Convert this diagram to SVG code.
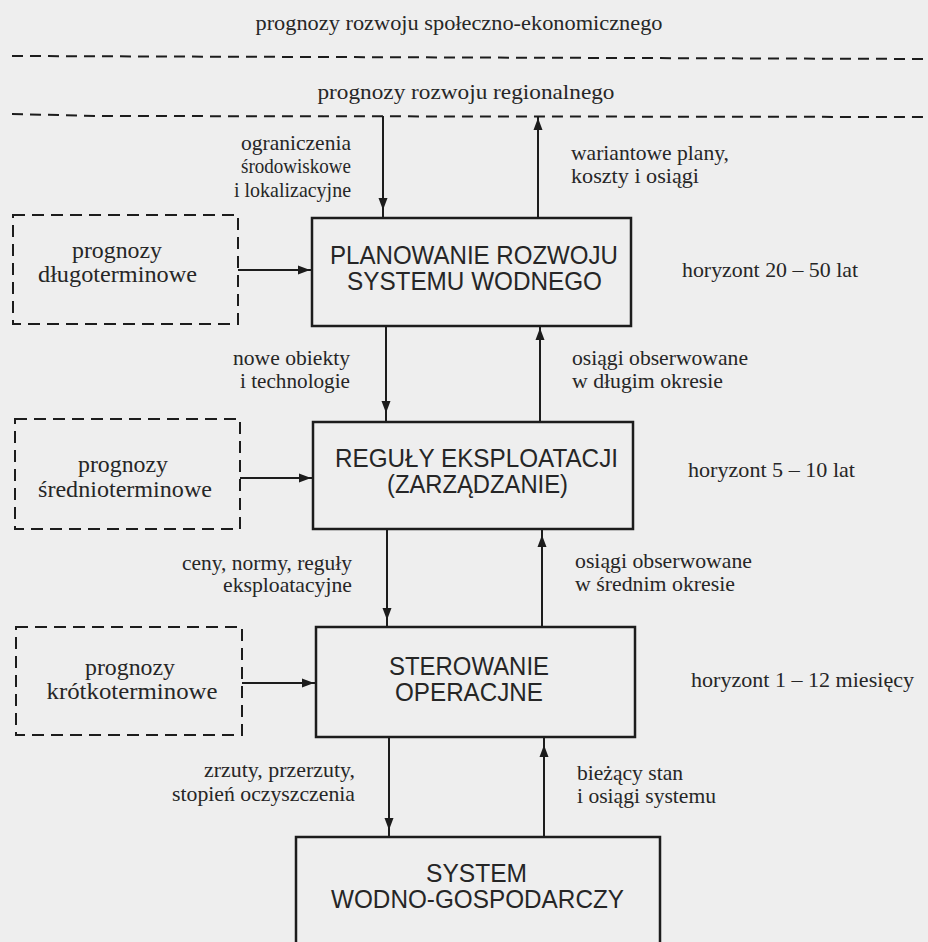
<svg xmlns="http://www.w3.org/2000/svg" width="928" height="942" viewBox="0 0 928 942">
<style>
.bg{fill:#eeeeee}
.box{fill:none;stroke:#1c1c1c;stroke-width:2.5}
.dbox{fill:none;stroke:#1c1c1c;stroke-width:2;stroke-dasharray:12 7}
.dline{fill:none;stroke:#1c1c1c;stroke-width:2;stroke-dasharray:11 7}
.conn{fill:none;stroke:#1c1c1c;stroke-width:2;marker-mid:url(#ah)}
.s{font-family:"Liberation Serif","Times New Roman",serif;font-size:21px;fill:#262626}
.d{font-family:"Liberation Serif","Times New Roman",serif;font-size:23px;fill:#262626;text-anchor:middle}
.b{font-family:"Liberation Sans",Arial,sans-serif;font-size:25px;fill:#262626;text-anchor:middle}
.m{text-anchor:middle}
.e{text-anchor:end}
</style>
<defs>
<marker id="ah" viewBox="0 0 12 10" refX="12" refY="5" markerWidth="12" markerHeight="10" markerUnits="userSpaceOnUse" orient="auto">
<path d="M0,0.5 L12,5 L0,9.5 Z" fill="#1c1c1c"/>
</marker>
</defs>
<rect class="bg" x="0" y="0" width="928" height="942"/>

<g id="levels">
<text class="s m" x="459" y="30" textLength="407" lengthAdjust="spacingAndGlyphs">prognozy rozwoju społeczno-ekonomicznego</text>
<path class="dline" d="M12,56 L928,59"/>
<text class="s m" x="466" y="99" textLength="297" lengthAdjust="spacingAndGlyphs">prognozy rozwoju regionalnego</text>
<path class="dline" d="M12,114 L100,116 L928,117"/>
</g>

<g id="planowanie">
<rect class="box" x="312" y="218" width="319" height="108"/>
<text class="b" x="474" y="264" textLength="288" lengthAdjust="spacingAndGlyphs">PLANOWANIE ROZWOJU</text>
<text class="b" x="474.5" y="290" textLength="255" lengthAdjust="spacingAndGlyphs">SYSTEMU WODNEGO</text>
</g>
<g id="reguly">
<rect class="box" x="313" y="422" width="320" height="107"/>
<text class="b" x="476.5" y="467" textLength="283" lengthAdjust="spacingAndGlyphs">REGUŁY EKSPLOATACJI</text>
<text class="b" x="477.5" y="493" textLength="181" lengthAdjust="spacingAndGlyphs">(ZARZĄDZANIE)</text>
</g>
<g id="sterowanie">
<rect class="box" x="316" y="627" width="319" height="110"/>
<text class="b" x="469" y="675" textLength="160" lengthAdjust="spacingAndGlyphs">STEROWANIE</text>
<text class="b" x="469" y="701" textLength="148" lengthAdjust="spacingAndGlyphs">OPERACJNE</text>
</g>
<g id="system">
<path class="box" d="M296,950 V837 H660 V950"/>
<text class="b" x="476.5" y="882" textLength="101" lengthAdjust="spacingAndGlyphs">SYSTEM</text>
<text class="b" x="477.5" y="908" textLength="293" lengthAdjust="spacingAndGlyphs">WODNO-GOSPODARCZY</text>
</g>

<g id="prognozy-dlugo">
<rect class="dbox" x="13" y="215" width="225" height="109"/>
<text class="d" x="117" y="258" textLength="90" lengthAdjust="spacingAndGlyphs">prognozy</text>
<text class="d" x="117.5" y="282" textLength="159" lengthAdjust="spacingAndGlyphs">długoterminowe</text>
</g>
<g id="prognozy-srednio">
<rect class="dbox" x="15" y="419" width="225" height="110"/>
<text class="d" x="123" y="472" textLength="90" lengthAdjust="spacingAndGlyphs">prognozy</text>
<text class="d" x="125" y="497" textLength="174" lengthAdjust="spacingAndGlyphs">średnioterminowe</text>
</g>
<g id="prognozy-krotko">
<rect class="dbox" x="16" y="627" width="226" height="108"/>
<text class="d" x="130" y="675" textLength="90" lengthAdjust="spacingAndGlyphs">prognozy</text>
<text class="d" x="132" y="699" textLength="171" lengthAdjust="spacingAndGlyphs">krótkoterminowe</text>
</g>

<g id="horizons">
<text class="s" x="682" y="277" textLength="176" lengthAdjust="spacingAndGlyphs">horyzont 20 – 50 lat</text>
<text class="s" x="688" y="477" textLength="167" lengthAdjust="spacingAndGlyphs">horyzont 5 – 10 lat</text>
<text class="s" x="691" y="687" textLength="223" lengthAdjust="spacingAndGlyphs">horyzont 1 – 12 miesięcy</text>
</g>

<g id="connectors">
<path class="conn" d="M383,116 L383,210 L383,218"/>
<path class="conn" d="M538,218 L538,118 L538,116"/>
<path class="conn" d="M386,326 L386,413 L386,422"/>
<path class="conn" d="M540,422 L540,328 L540,326"/>
<path class="conn" d="M387,529 L387,620 L387,627"/>
<path class="conn" d="M542,627 L542,535 L542,529"/>
<path class="conn" d="M389,737 L389,830 L389,837"/>
<path class="conn" d="M544,837 L544,745 L544,737"/>
<path class="conn" d="M238,270 L310,270 L312,270"/>
<path class="conn" d="M240,478 L311,478 L313,478"/>
<path class="conn" d="M242,683 L314,683 L316,683"/>
</g>

<g id="connector-labels">
<text class="s e" x="351" y="150" textLength="110" lengthAdjust="spacingAndGlyphs">ograniczenia</text>
<text class="s e" x="351" y="173" textLength="110" lengthAdjust="spacingAndGlyphs">środowiskowe</text>
<text class="s e" x="351" y="197" textLength="117" lengthAdjust="spacingAndGlyphs">i lokalizacyjne</text>
<text class="s" x="571" y="160" textLength="158" lengthAdjust="spacingAndGlyphs">wariantowe plany,</text>
<text class="s" x="571" y="183" textLength="128" lengthAdjust="spacingAndGlyphs">koszty i osiągi</text>
<text class="s e" x="350" y="365" textLength="117" lengthAdjust="spacingAndGlyphs">nowe obiekty</text>
<text class="s e" x="350" y="388" textLength="110" lengthAdjust="spacingAndGlyphs">i technologie</text>
<text class="s" x="572" y="365" textLength="176" lengthAdjust="spacingAndGlyphs">osiągi obserwowane</text>
<text class="s" x="572" y="388" textLength="151" lengthAdjust="spacingAndGlyphs">w długim okresie</text>
<text class="s e" x="352" y="570" textLength="170" lengthAdjust="spacingAndGlyphs">ceny, normy, reguły</text>
<text class="s e" x="352" y="592" textLength="129" lengthAdjust="spacingAndGlyphs">eksploatacyjne</text>
<text class="s" x="575" y="568" textLength="177" lengthAdjust="spacingAndGlyphs">osiągi obserwowane</text>
<text class="s" x="575" y="591" textLength="160" lengthAdjust="spacingAndGlyphs">w średnim okresie</text>
<text class="s e" x="355" y="777" textLength="151" lengthAdjust="spacingAndGlyphs">zrzuty, przerzuty,</text>
<text class="s e" x="355" y="801" textLength="183" lengthAdjust="spacingAndGlyphs">stopień oczyszczenia</text>
<text class="s" x="577" y="780" textLength="106" lengthAdjust="spacingAndGlyphs">bieżący stan</text>
<text class="s" x="577" y="803" textLength="139" lengthAdjust="spacingAndGlyphs">i osiągi systemu</text>
</g>
</svg>
